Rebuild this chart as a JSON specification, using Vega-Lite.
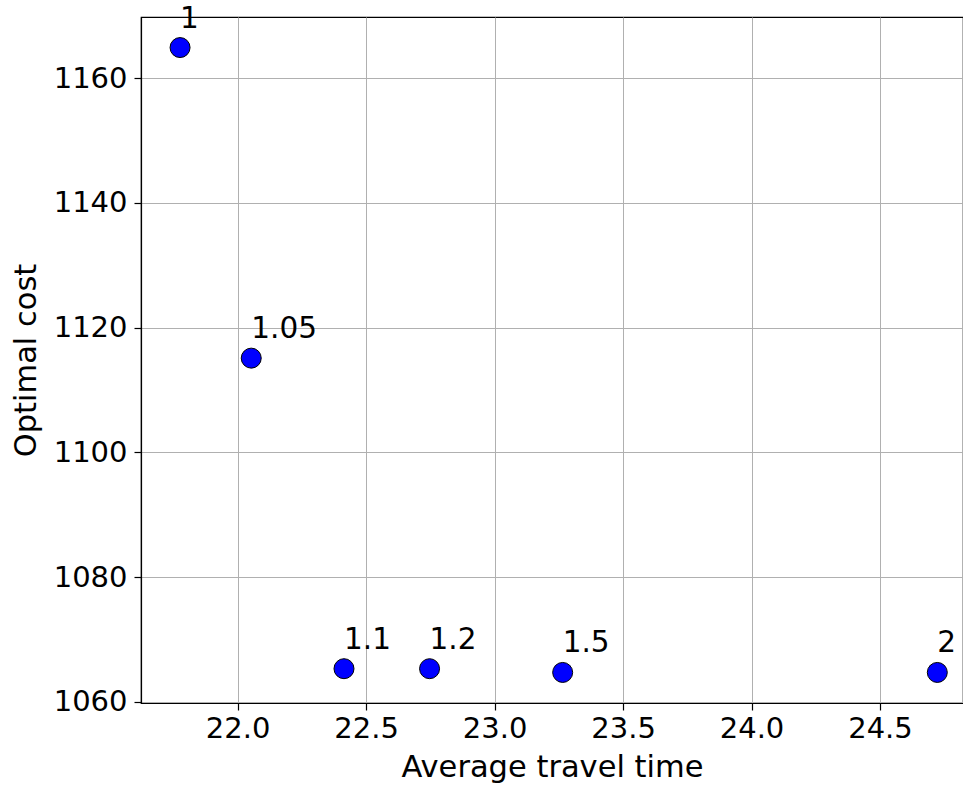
{
  "$schema": "https://vega.github.io/schema/vega-lite/v6.json",
  "autosize": "none",
  "padding": {"left": 141, "top": 17, "right": 0, "bottom": 85},
  "width": 822,
  "height": 686,
  "background": "white",
  "config": {
    "font": "DejaVu Sans",
    "view": {"stroke": "black", "strokeWidth": 1.2},
    "axis": {
      "domainColor": "black",
      "domainWidth": 1.2,
      "tickColor": "black",
      "tickWidth": 1.2,
      "tickSize": 7,
      "labelColor": "black",
      "labelFont": "DejaVu Sans",
      "labelFontSize": 29,
      "titleFont": "DejaVu Sans",
      "titleFontSize": 30.5,
      "titleFontWeight": "normal",
      "titleColor": "black",
      "gridColor": "#b0b0b0",
      "gridWidth": 1,
      "gridOpacity": 1
    }
  },
  "data": {
    "values": [
      {"time": 21.776, "cost": 1164.9, "label": "1"},
      {"time": 22.053, "cost": 1115.1, "label": "1.05"},
      {"time": 22.414, "cost": 1065.3, "label": "1.1"},
      {"time": 22.747, "cost": 1065.3, "label": "1.2"},
      {"time": 23.265, "cost": 1064.7, "label": "1.5"},
      {"time": 24.723, "cost": 1064.7, "label": "2"}
    ]
  },
  "encoding": {
    "x": {
      "field": "time",
      "type": "quantitative",
      "title": "Average travel time",
      "scale": {"domain": [21.624, 24.823], "nice": false, "zero": false},
      "axis": {
        "values": [22.0, 22.5, 23.0, 23.5, 24.0, 24.5],
        "format": ".1f",
        "labelPadding": 4,
        "titlePadding": 9,
        "labelFlush": false
      }
    },
    "y": {
      "field": "cost",
      "type": "quantitative",
      "title": "Optimal cost",
      "scale": {"domain": [1059.8, 1169.8], "nice": false, "zero": false},
      "axis": {
        "values": [1060, 1080, 1100, 1120, 1140, 1160],
        "format": "d",
        "labelPadding": 7,
        "titlePadding": 12,
        "labelFlush": false
      }
    }
  },
  "layer": [
    {
      "mark": {"type": "point", "shape": "circle", "filled": true, "fill": "#0000ff", "stroke": "black", "strokeWidth": 1, "size": 400, "opacity": 1}
    },
    {
      "mark": {"type": "text", "align": "left", "baseline": "alphabetic", "dx": 0, "dy": -20, "fontSize": 29.5, "font": "DejaVu Sans", "color": "black"},
      "encoding": {"text": {"field": "label"}}
    }
  ]
}
